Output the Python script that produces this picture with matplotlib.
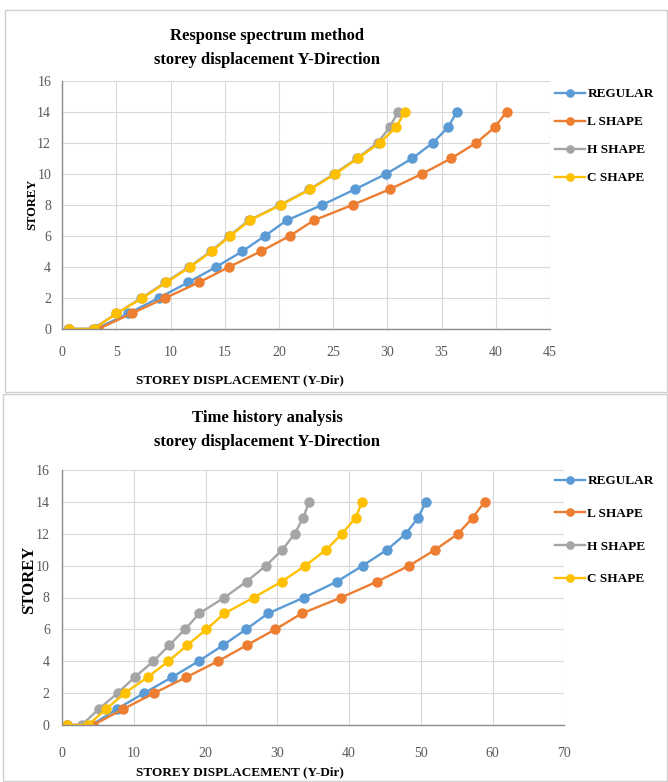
import matplotlib.pyplot as plt
from matplotlib.patches import Rectangle

# storey levels (base point plus storeys 0..14)
storeys = [0, 0, 1, 2, 3, 4, 5, 6, 7, 8, 9, 10, 11, 12, 13, 14]
series_names = ['REGULAR', 'L SHAPE', 'H SHAPE', 'C SHAPE']
colors = ['#5B9BD5', '#ED7D31', '#A5A5A5', '#FFC000']

# response spectrum method, displacement (Y-Dir)
rsm_regular = [0.6, 3.1, 6.1, 8.9, 11.6, 14.2, 16.6, 18.7, 20.7, 24.0, 27.0, 29.9, 32.3, 34.2, 35.6, 36.4]
rsm_l_shape = [0.6, 3.3, 6.4, 9.5, 12.6, 15.4, 18.3, 21.0, 23.2, 26.8, 30.2, 33.2, 35.9, 38.2, 39.9, 41.0]
rsm_h_shape = [0.5, 2.8, 5.0, 7.3, 9.5, 11.7, 13.7, 15.4, 17.2, 20.1, 22.8, 25.1, 27.2, 29.1, 30.2, 31.0]
rsm_c_shape = [0.6, 2.9, 5.0, 7.4, 9.6, 11.8, 13.8, 15.5, 17.3, 20.2, 22.9, 25.2, 27.3, 29.3, 30.8, 31.6]

# time history analysis, displacement (Y-Dir)
tha_regular = [0.6, 4.1, 7.6, 11.4, 15.3, 19.0, 22.4, 25.6, 28.7, 33.7, 38.3, 41.9, 45.3, 47.9, 49.6, 50.7]
tha_l_shape = [0.6, 4.3, 8.5, 12.8, 17.3, 21.7, 25.7, 29.7, 33.4, 38.9, 43.9, 48.4, 52.0, 55.2, 57.2, 58.9]
tha_h_shape = [0.6, 2.7, 5.1, 7.7, 10.1, 12.7, 14.9, 17.1, 19.1, 22.6, 25.7, 28.4, 30.7, 32.4, 33.6, 34.4]
tha_c_shape = [0.6, 3.6, 6.1, 8.7, 11.9, 14.8, 17.4, 20.1, 22.6, 26.7, 30.6, 33.9, 36.8, 39.0, 40.9, 41.8]

W, H = 668, 782
fig = plt.figure(figsize=(W / 100, H / 100), dpi=100)
serif = 'Liberation Serif'


def fx(px):
    return px / W


def fy(py):
    return 1 - py / H


# panel borders
for (x0, y0, x1, y1) in [(5, 10, 667, 392), (3, 394, 667, 781)]:
    fig.patches.append(Rectangle((fx(x0), fy(y1)), fx(x1) - fx(x0), fy(y0) - fy(y1),
                                 transform=fig.transFigure, fill=False,
                                 edgecolor='#D0D0D0', linewidth=1.0))


def draw_chart(ax, data, xmax, xstep, title_y, xlabel_y, title1, title2,
               ylab_size, ylab_y, leg_top, leg_spacing, xpad, ypad):
    for vals, name, c in zip(data, series_names, colors):
        ax.plot(vals, storeys, color=c, linewidth=1.7, marker='o',
                markersize=6.5, label=name)
    ax.set_xlim(0, xmax)
    ax.set_ylim(0, 16)
    ax.set_xticks(range(0, xmax + 1, xstep))
    ax.set_yticks(range(0, 17, 2))
    ax.grid(True, color='#D9D9D9', linewidth=0.8)
    ax.set_axisbelow(True)
    for s in ['top', 'right']:
        ax.spines[s].set_visible(False)
    for s in ['left', 'bottom']:
        ax.spines[s].set_color('#8C8C8C')
        ax.spines[s].set_linewidth(1.0)
    ax.tick_params(length=0, labelsize=10, labelcolor='#595959')
    ax.tick_params(axis='x', pad=xpad)
    ax.tick_params(axis='y', pad=ypad)
    for lab in ax.get_xticklabels() + ax.get_yticklabels():
        lab.set_fontfamily(serif)
    ax.set_ylabel('STOREY', fontsize=ylab_size, fontweight='bold', family=serif)
    ax.yaxis.set_label_coords(-0.05, ylab_y)
    fig.text(fx(267), fy(title_y), title1, ha='center', va='center',
             fontsize=12, fontweight='bold', family=serif)
    fig.text(fx(267), fy(title_y + 24), title2, ha='center', va='center',
             fontsize=12, fontweight='bold', family=serif)
    fig.text(fx(240), fy(xlabel_y), 'STOREY DISPLACEMENT (Y-Dir)', ha='center',
             va='center', fontsize=9.5, fontweight='bold', family=serif)
    fig.legend(*ax.get_legend_handles_labels(), loc='upper left',
               bbox_to_anchor=(fx(555), fy(leg_top)), frameon=False,
               borderpad=0, borderaxespad=0, handlelength=2.3,
               handletextpad=0.15, labelspacing=leg_spacing, markerscale=0.8,
               prop={'family': serif, 'weight': 'bold', 'size': 9.5})


ax1 = fig.add_axes([fx(62.3), fy(329), fx(550) - fx(62.3), fy(80.7) - fy(329)])
draw_chart(ax1, [rsm_regular, rsm_l_shape, rsm_h_shape, rsm_c_shape], 45, 5,
           36, 380, 'Response spectrum method', 'storey displacement Y-Direction',
           9, 0.5, 88, 1.2, 12, 8)

ax2 = fig.add_axes([fx(62.3), fy(725), fx(564.3) - fx(62.3), fy(470) - fy(725)])
draw_chart(ax2, [tha_regular, tha_l_shape, tha_h_shape, tha_c_shape], 70, 10,
           418, 772, 'Time history analysis', 'storey displacement Y-Direction',
           12, 0.57, 475, 1.55, 16, 9)

fig.savefig('out.png', dpi=100)
